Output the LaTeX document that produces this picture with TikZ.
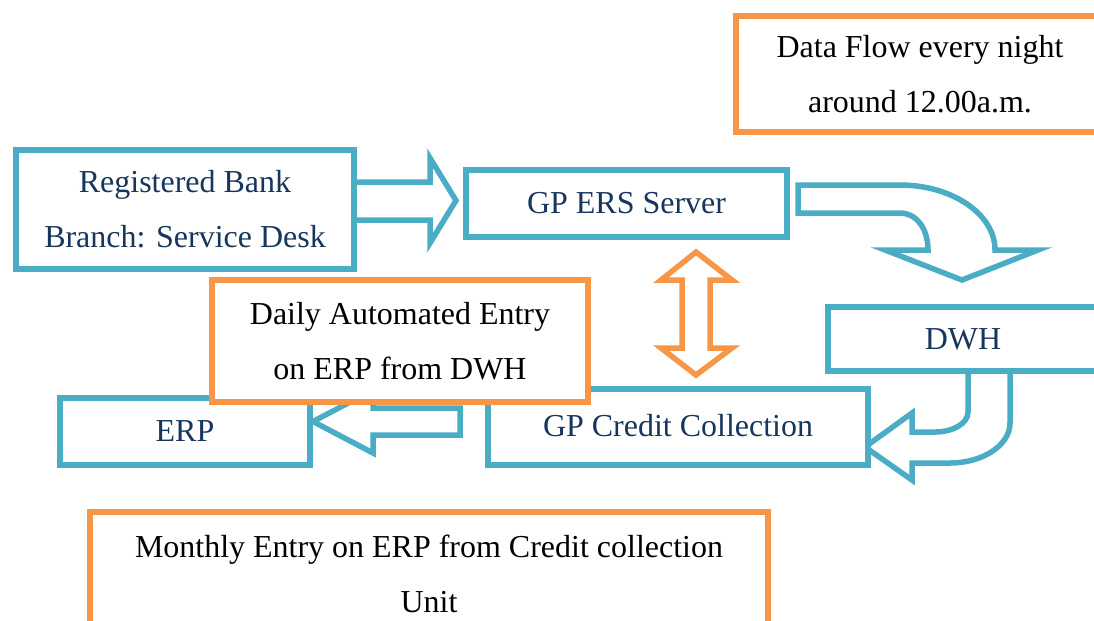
\documentclass[tikz,border=0pt]{standalone}
\usepackage{fontspec}
\setmainfont{Liberation Serif}
\definecolor{bl}{HTML}{4BACC6}
\definecolor{orn}{HTML}{F79646}
\definecolor{navy}{HTML}{17365D}
\begin{document}
\begin{tikzpicture}[x=0.02cm,y=-0.02cm,
  box/.style={draw, line width=0.12cm, fill=white, inner sep=0pt, align=center,
    font=\fontsize{18.2}{31.3}\selectfont},
  bbox/.style={box, draw=bl, text=navy},
  obox/.style={box, draw=orn, text=black},
  barrow/.style={draw=bl, fill=white, line width=0.11cm, line join=miter},
  oarrow/.style={draw=orn, fill=white, line width=0.11cm, line join=miter}]
\useasboundingbox (0,0) rectangle (1094,620);
\fill[white] (0,0) rectangle (1094,620);
\begin{scope}
\clip (0,0) rectangle (1094,620);
% block arrows (blue)
\draw[barrow] (354,182) -- (430,182) -- (430,158) -- (456,200.5) -- (430,243) -- (430,220) -- (354,220) -- cycle;
\draw[barrow] (798,185) -- (900,185) .. controls (952,185) and (995,214) .. (995,250)
  -- (1038,250) -- (962,280) -- (885,250) -- (928,250)
  .. controls (928,228) and (916,213) .. (900,213) -- (798,213) -- cycle;
\draw[barrow] (968,371) -- (968,412) .. controls (968,424) and (952,432) .. (935,432)
  -- (912,432) -- (912,413) -- (865,447) -- (912,480) -- (912,463) -- (950,463)
  .. controls (983,463) and (1010,445) .. (1010,423) -- (1010,371) -- cycle;
\draw[barrow] (460,408) -- (373,408) -- (373,390) -- (313,421.5) -- (373,453) -- (373,435) -- (460,435) -- cycle;
% blue boxes
\node[bbox, minimum width=6.76cm, minimum height=2.38cm] (reg) at (185,209.5) {Registered Bank\\Branch: Service Desk};
\node[bbox, minimum width=6.42cm, minimum height=1.34cm] (ers) at (626.5,203.5) {GP ERS Server};
\node[bbox, minimum width=5.40cm, minimum height=1.28cm] (dwh) at (963,339) {DWH};
\node[bbox, minimum width=5.00cm, minimum height=1.34cm] (erp) at (185,431.5) {ERP};
\node[bbox, minimum width=7.60cm, minimum height=1.52cm] (gpc) at (678,427) {\raisebox{0.08cm}{GP Credit Collection}};
% orange double arrow
\draw[oarrow] (696,252) -- (732,280) -- (710,280) -- (710,348) -- (732,348) -- (696,375)
  -- (661,348) -- (682,348) -- (682,280) -- (661,280) -- cycle;
% orange boxes
\node[obox, minimum width=7.36cm, minimum height=2.32cm] (flow) at (920,74) {Data Flow every night\\around 12.00a.m.};
\node[obox, minimum width=7.52cm, minimum height=2.44cm] (daily) at (400,341) {Daily Automated Entry\\on ERP from DWH};
\node[obox, minimum width=13.56cm, minimum height=2.48cm] (month) at (429,574) {Monthly Entry on ERP from Credit collection\\Unit};
\end{scope}
\end{tikzpicture}
\end{document}
